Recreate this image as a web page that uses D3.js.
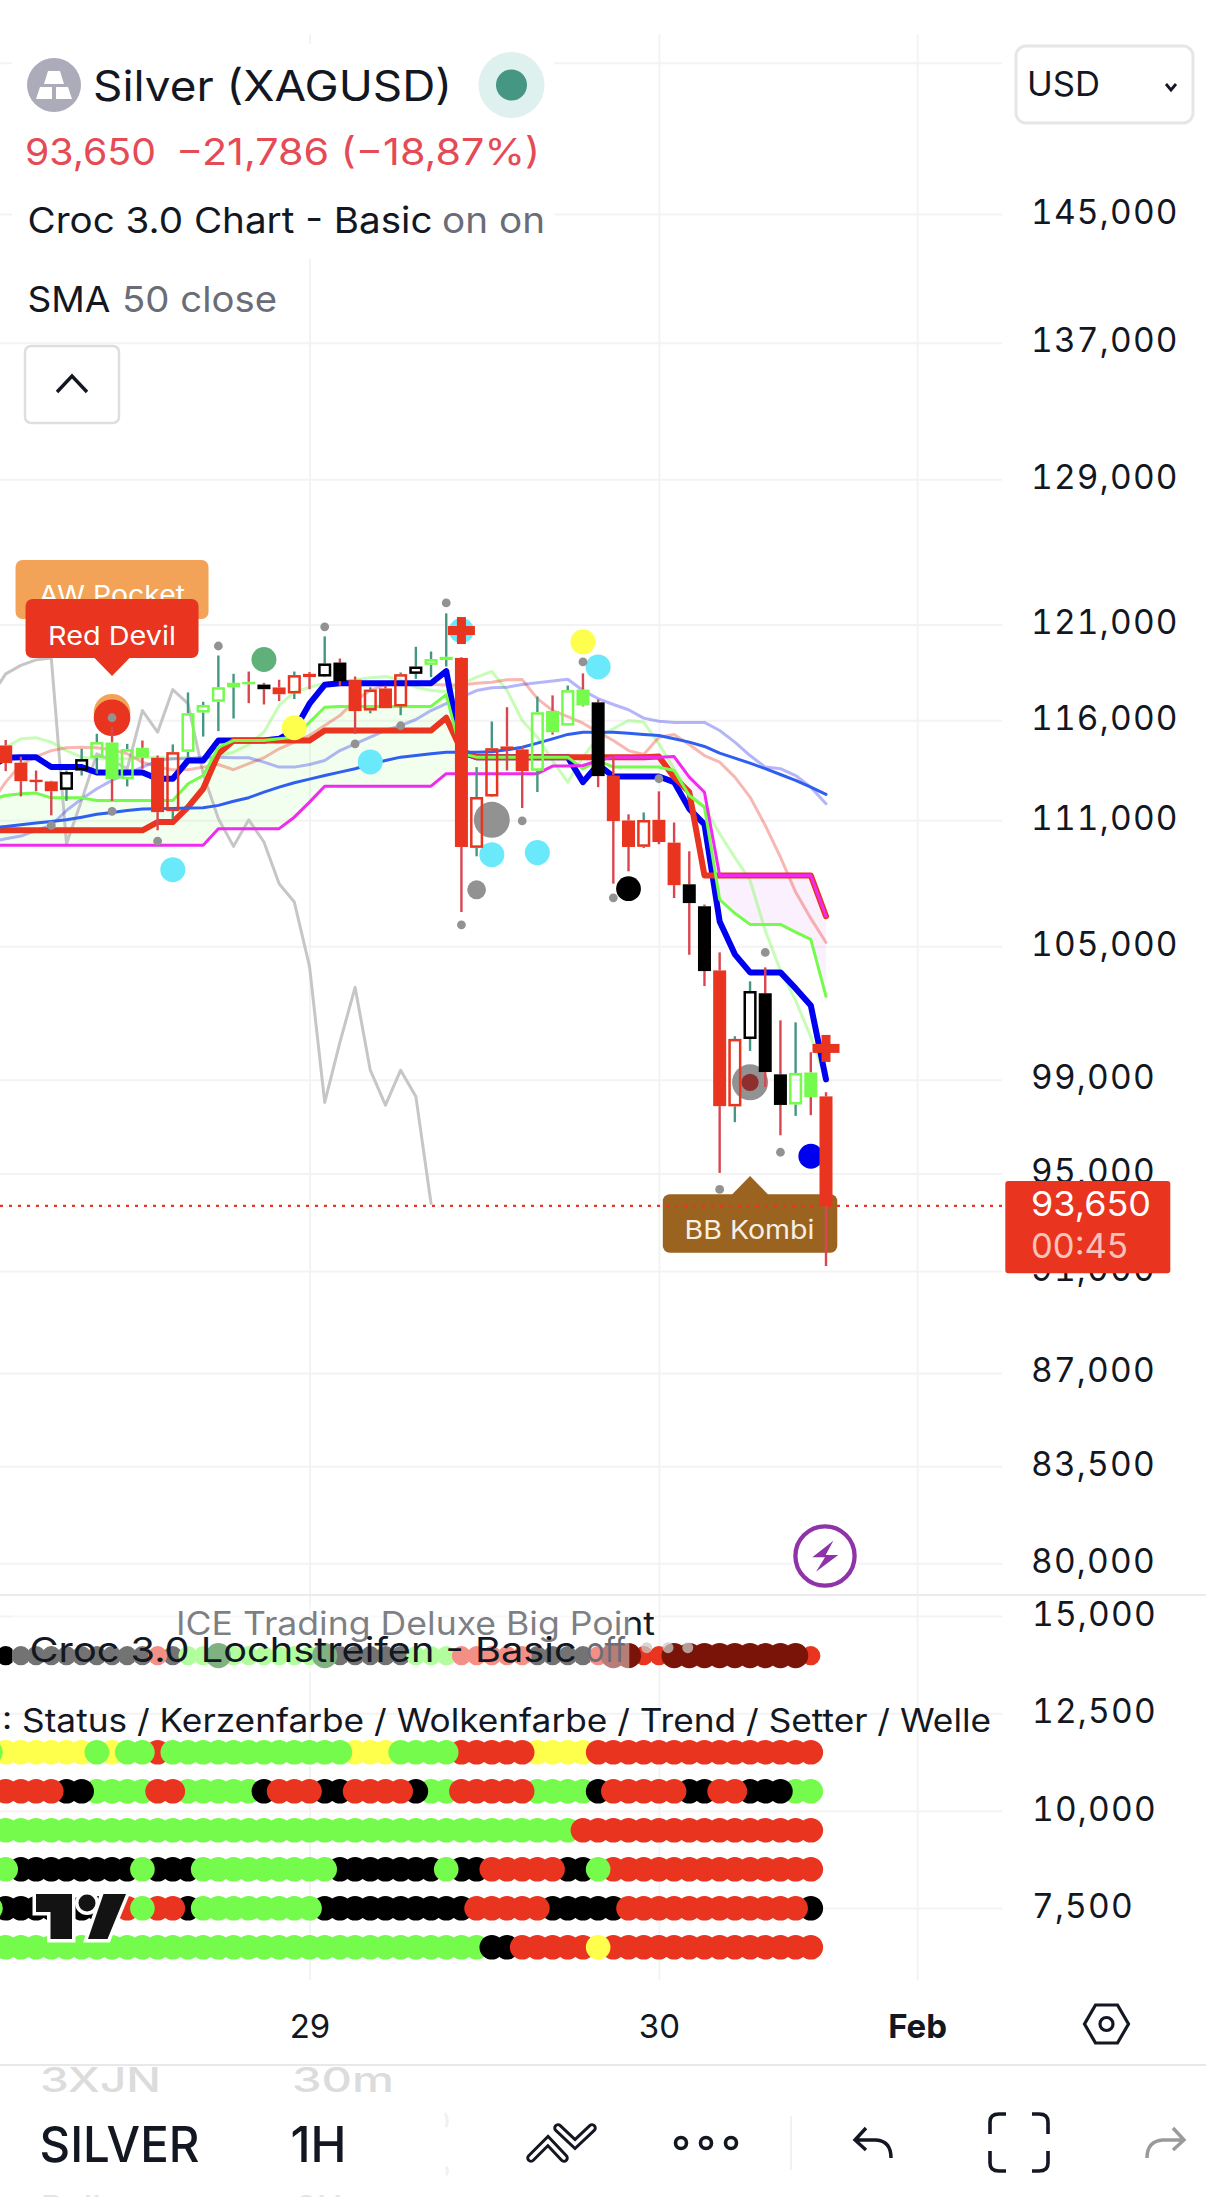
<!DOCTYPE html>
<html><head><meta charset="utf-8">
<script src="https://cdn.jsdelivr.net/npm/d3@7/dist/d3.min.js"></script>
<style>html,body{margin:0;padding:0;background:#fff;overflow:hidden}svg{display:block}text{font-family:Inter,"Noto Sans",sans-serif}</style>
</head><body><div id="chart"></div>
<script>
// ---------- values (price units) ----------
const barOpen=[114720,113850,113000,112915,112500,113460,114100,114870,113030,114600,114100,111450,114400,116400,116950,117700,117980,117840,117690,117380,118400,118260,118990,118090,116500,117640,116710,118400,118870,119170,119230,109660,112170,114670,114520,113450,116480,115730,117580,116920,113210,110990,109710,111020,109910,107910,106870,103890,97850,100800,102850,99240,97930,99320,98280];
const barClose=[113830,112930,112900,112430,113380,114030,114890,113030,114530,114100,111400,114380,116360,116780,117700,117930,117860,117600,117340,118330,118230,118940,118020,116470,117580,116620,118380,118780,119170,119290,109700,112140,114580,114530,113430,116410,115390,117550,116760,113180,110960,109700,111010,109940,107870,107020,103860,97860,100800,102950,99340,97910,99300,98250,93650];
const barHigh=[115000,114160,113460,112950,113460,114550,115310,115650,114800,114970,114210,114770,117430,116950,119360,118400,118520,117930,118090,118520,118490,120370,119200,118260,117700,117780,118470,119820,119570,121600,119270,113630,115940,116670,114670,117220,117280,117790,118420,117070,114210,111290,111380,112420,110890,109490,106950,104720,100920,103390,104030,101630,101540,100210,98460];
const barLow=[113430,112170,112430,111240,111950,113210,113300,111950,112670,113550,110510,111070,114130,115170,115450,116090,116880,116810,116990,117090,117600,118230,117780,115310,116360,116620,116260,118140,118230,118780,106600,109250,112140,113460,111600,112390,115270,115730,116710,112630,107940,108530,109650,109830,107260,104610,103180,95020,97170,100270,98690,96610,97440,97470,91200];
const barColor="rrrrkkggggrrgggggkrrrkkrrrrkggrrrrrggggkrrrrrkkrrkkkggr".split('');

// lines start one bar left of the first candle (index -1)
const conversionLine=[113630,114100,114130,114130,113630,113630,113630,113360,113360,113360,113360,113050,113050,113960,113960,114970,114970,114970,114970,115055,115480,116850,117830,117910,117910,117910,117910,117910,117910,117910,118540,114380,114130,114130,114130,114130,114130,114130,114130,112880,113760,113160,113160,113160,113160,112880,111560,110800,106160,104630,103800,103800,103800,103070,102300,99020];
const greenLine=[112000,112220,112300,112335,112100,112100,112100,111975,111975,111975,111975,111975,111975,112800,113210,114630,114970,114970,114970,115055,115140,115900,116670,116710,116710,116710,116710,116710,116710,116710,117320,114300,114130,114130,114130,114130,114130,114130,114130,113550,113960,113630,113630,113630,113630,113460,112220,111640,107190,106540,106020,106020,106020,105660,105320,102710];
const redLine=[110510,110510,110510,110510,110510,110510,110510,110510,110510,110510,110510,110910,110910,111640,112550,114300,114970,114970,114970,114970,114970,114970,115480,115480,115480,115480,115480,115480,115480,115480,116130,114460,114130,114130,114130,114130,114130,114130,114130,114130,114130,114130,114130,114130,114160,113130,112380,108330,108330,108330,108330,108330,108330,108330,108330,106400];
const magentaLine=[109780,109780,109780,109780,109780,109780,109780,109780,109780,109780,109780,109780,109780,109780,109780,110590,110590,110590,110590,110590,111150,111890,112680,112680,112680,112680,112680,112680,112680,112680,113300,113300,113300,113300,113300,113300,113300,113680,113680,113710,113960,114130,114130,114130,114130,114160,113130,112380,108330,108330,108330,108330,108330,108330,108330,106400];
const blueLine=[110630,110700,110780,110860,110940,111020,111150,111290,111380,111480,111550,111560,111580,111600,111610,111730,111930,112110,112385,112630,112850,113030,113210,113380,113550,113760,113960,114130,114210,114300,114380,114380,114380,114400,114500,114630,114840,115055,115280,115395,115395,115395,115340,115280,115225,115055,114890,114670,114330,114080,113830,113550,113260,112970,112630,112270];
const paleBlueLine=[109940,110100,110230,110510,110750,111480,112050,112550,112970,113300,113630,113960,114050,114050,114130,114130,114100,114100,113880,113630,113630,113760,113960,114460,114800,115140,115480,115730,116040,116500,116850,117190,117530,117670,117700,117840,117930,118020,118120,117530,117110,116810,116540,116110,115950,115890,115890,115890,115480,114890,114210,113630,113550,113210,112630,111810];
const paleRedLine=[111810,112880,113760,114160,114460,114600,114630,114600,114500,114300,113880,113630,113500,113500,113630,113760,113500,113800,114100,114550,114890,115225,115730,116240,117020,117530,117840,117960,117870,117840,117820,117820,117910,117960,118090,118100,117110,116500,116190,115850,115395,114970,114460,114260,115140,115280,114770,114210,113880,113130,112140,110750,109210,107540,106300,105180];
const paleGreenLine=[114300,114630,115055,115110,114890,114460,114130,114050,114050,114050,114130,114130,114050,114130,113880,114210,114380,114770,115395,116760,117450,117700,117910,117960,118090,118190,118260,118090,117700,117530,117480,117880,118230,118520,117530,115990,115140,113960,112880,114130,115140,115565,115990,115900,114800,113550,112300,111640,110340,109200,108100,105740,103890,102530,100890,99000];
// grey trace ends at bar 28
const greyLine=[117190,118400,118840,119130,119230,109860,111980,114300,113960,113550,116500,115395,117580,116850,113300,111070,109730,111020,109940,107940,107070,104080,98020,100650,103120,99420,97900,99420,98280,93750];

// markers [bar, price]
const cyanDots=[[11,108610],[24,113890],[30,120680],[32,109330],[35,109430],[39,118760]];
const yellowDots=[[19,115620],[38,120080]];
const smallGreyDots=[[3,110750],[7,111430],[7,116130],[10,109985],[14,119860],[21,120880],[23,114800],[26,115720],[29,122160],[30,106000],[34,110970],[38,119020],[40,107270],[43,113050],[47,94330],[50,104720],[51,95890]];
const bigGreyDots=[[32,111020],[49,98890]];
const midGreyDots=[[31,107650]];
const blackDots=[[41,107700]];
const blueDots=[[53,95720]];
const greenDots=[[17,119150]];
const orangeDots=[[7,116410]];
const redDots=[[7,116130]];
const darkRedDots=[[49,98890]];
const plusMarks=[[30,120680],[54,100380]];
const lastPrice=93650;

const priceTicks=[155000,145000,137000,129000,121000,116000,111000,105000,99000,95000,91000,87000,83500,80000];
const paneTicks=[15000,12500,10000,7500];
const timeTicks=[20,43,60];
const timeLabels=["29","30","Feb"];

// dot rows, bars -1 .. 53
const rowPoints="kkkkkkkkkkkrkggGggggggGkkkkkgggrrrrrkkkkrRRrrRRRRRRRRRr".split('');
const rowStatus="gyyyyyygyggrggggggggggggyyyggggrrrrryyyyrrrrrrrrrrrrrrr".split('');
const rowCandle="rrrrrkkggggrrgggggkrrrkkrrrrkggrrrrrggggkrrrrrkkrrkkkgg".split('');
const rowCloud="gggggggggggggggggggggggggggggggggggggggrrrrrrrrrrrrrrrr".split('');
const rowTrend="ggkkkkkkkkgkkkgggggggggkkkkkkkgkkrrrrrkkgrrrrrrrrrrrrrr".split('');
const rowSetter="gkkkkkkkkrgrrkggggggggkkkkkkkkkkrrrrrkkkkkrrrrrrrrrrrrk".split('');
const rowWave="gggggggggggggggggggggggggggggggggkkrrrrryrrrrrrrrrrrrrr".split('');
const fadedDots=[42.2,43.6,44.9];

// ---------- drawing ----------
const W=1206,H=2197;
const RED="#e9341f",GREEN="#74fb4b",YEL="#fefe4c",WICKR="#d9464f",WICKG="#459682",CYAN="#6ae9fb",GREY="#929292";
const svg=d3.select("#chart").append("svg").attr("width",W).attr("height",H).attr("viewBox",`0 0 ${W} ${H}`);
const x=d3.scaleLinear().domain([0,54]).range([5.7,826]);
const y=d3.scaleLog().domain([145000,91000]).range([214,1271]);
const yPane=d3.scaleLinear().domain([7500,15000]).range([1908,1616]);

function txt(g,px,py,s,o={}){
  const t=g.append("text").attr("x",px).attr("y",py).text(s)
    .attr("font-size",o.size||32).attr("fill",o.fill||"#131722").attr("font-weight",o.weight||400);
  if(o.anchor)t.attr("text-anchor",o.anchor);
  if(o.len)t.attr("textLength",o.len).attr("lengthAdjust","spacingAndGlyphs");
  return t;
}
function gridStyle(g){
  g.select(".domain").remove();
  g.selectAll("line").attr("stroke","#f3f3f3").attr("stroke-width",2);
  g.selectAll("text").remove();
}
// grids
svg.append("g").attr("transform","translate(0,1980)")
  .call(d3.axisBottom(x).tickValues(timeTicks).tickSize(-1946)).call(gridStyle);
svg.append("g").attr("transform","translate(1002,0)")
  .call(d3.axisLeft(y).tickValues(priceTicks).tickSize(1002)).call(gridStyle);
svg.append("g").attr("transform","translate(1002,0)")
  .call(d3.axisLeft(yPane).tickValues(paneTicks).tickSize(1002)).call(gridStyle);

// cloud
const idx=a=>a.map((v,i)=>({i:i-1,v}));
const cloud=magentaLine.map((m,k)=>({i:k-1,m,g:greenLine[k]}));
const area=d3.area().x(d=>x(d.i)).y0(d=>y(d.m)).y1(d=>y(d.g));
svg.append("path").attr("d",area(cloud.slice(0,41))).attr("fill","#74fb4b").attr("opacity",.09);
svg.append("path").attr("d",area(cloud.slice(41))).attr("fill","#d040e8").attr("opacity",.08);

// lines
const line=d3.line().x(d=>x(d.i)).y(d=>y(d.v));
function drawLine(a,c,w,op=1){
  svg.append("path").attr("d",line(idx(a))).attr("fill","none").attr("stroke",c).attr("stroke-width",w)
   .attr("stroke-opacity",op).attr("stroke-linejoin","round").attr("stroke-linecap","round");
}
drawLine(greyLine,"#c6c6c6",3);
drawLine(paleGreenLine,GREEN,3,.4);
drawLine(paleRedLine,RED,3,.35);
drawLine(paleBlueLine,"#2a2ff0",3,.35);
drawLine(conversionLine,"#0000f0",6);
drawLine(redLine,RED,6);
drawLine(greenLine,GREEN,3);
drawLine(magentaLine,"#f02bf0",3);
drawLine(blueLine,"#2f5ff0",3);

// markers
function dots(a,c,r,op=1){
  svg.append("g").selectAll("circle").data(a).join("circle")
   .attr("cx",d=>x(d[0])).attr("cy",d=>y(d[1])).attr("r",r).attr("fill",c).attr("fill-opacity",op);
}
dots(cyanDots,CYAN,12.5);
dots(yellowDots,YEL,12.5);
dots(greenDots,"#60b07a",12.5);
dots(orangeDots,"#f2a358",18.3);
dots(redDots,RED,18.3);
dots(bigGreyDots,GREY,18);
dots(darkRedDots,"#8c2f2e",8.6);
dots(midGreyDots,GREY,9.4);
dots(blackDots,"#000",12.4);
dots(blueDots,"#0000f0",12.4);
dots(smallGreyDots,GREY,4.4);

// labels attached to bars
function tag(bar,top,h,w,c){
  const cx=x(bar), g=svg.append("g");
  g.append("rect").attr("x",cx-w/2).attr("y",top).attr("width",w).attr("height",h).attr("rx",7).attr("fill",c);
  return g;
}
const aw=tag(7,560,59,193,"#f2a358");
txt(aw,112,604,"AW Pocket",{size:26,fill:"#fff",anchor:"middle",len:146});
const rd=tag(7,599,59,173,RED);
rd.append("path").attr("d",`M${x(7)-18.5},657 L${x(7)},676 L${x(7)+18.5},657 Z`).attr("fill",RED);
txt(rd,112,645,"Red Devil",{size:26,fill:"#fff",anchor:"middle",len:128});
const bb=tag(49,1194.3,58.4,174.5,"#9a6420");
bb.append("path").attr("d",`M${x(49)-18.5},1195 L${x(49)},1176 L${x(49)+18.5},1195 Z`).attr("fill","#9a6420");
txt(bb,749.5,1239.3,"BB Kombi",{size:26,fill:"#f6efe2",anchor:"middle",len:130});

// candles
const bars=barOpen.map((o,i)=>({i,o,c:barClose[i],h:barHigh[i],l:barLow[i],col:barColor[i]}));
const colMap={r:RED,g:GREEN,k:"#000"};
const cg=svg.append("g");
bars.forEach(b=>{
  const px=x(b.i),yT=y(Math.max(b.o,b.c)),yB=y(Math.min(b.o,b.c)),up=b.c>b.o,wc=up?WICKG:WICKR,c=colMap[b.col];
  cg.append("line").attr("x1",px).attr("x2",px).attr("y1",y(b.h)).attr("y2",yT).attr("stroke",wc).attr("stroke-width",2.4);
  cg.append("line").attr("x1",px).attr("x2",px).attr("y1",yB).attr("y2",y(b.l)).attr("stroke",wc).attr("stroke-width",2.4);
  if(up){
    cg.append("rect").attr("x",px-5.3).attr("y",yT+1.2).attr("width",10.6).attr("height",Math.max(yB-yT-2.4,.8))
      .attr("fill","none").attr("stroke",c).attr("stroke-width",2.5);
  }else{
    cg.append("rect").attr("x",px-6.5).attr("y",yT).attr("width",13).attr("height",Math.max(yB-yT,2.4)).attr("fill",c);
  }
});
// plus marks
plusMarks.forEach(p=>{
  const px=x(p[0]),py=y(p[1]);
  svg.append("rect").attr("x",px-13.5).attr("y",py-4.5).attr("width",27).attr("height",9).attr("fill",RED);
  svg.append("rect").attr("x",px-4.5).attr("y",py-13.5).attr("width",9).attr("height",27).attr("fill",RED);
});

// last-price line
svg.append("line").attr("x1",0).attr("x2",1005).attr("y1",y(lastPrice)).attr("y2",y(lastPrice))
  .attr("stroke",RED).attr("stroke-width",2.4).attr("stroke-dasharray","3 6");

// lightning badge
svg.append("circle").attr("cx",825).attr("cy",1556).attr("r",34).attr("fill","#fff");
svg.append("circle").attr("cx",825).attr("cy",1556).attr("r",29.6).attr("fill","none").attr("stroke","#8e33a8").attr("stroke-width",4.3);
svg.append("path").attr("d","M833.3,1540.7 L812.3,1557.3 L825,1557.3 L816,1571.7 L838.3,1555 L825.7,1555 Z").attr("fill","#8e33a8");

// pane separator
svg.append("line").attr("x1",0).attr("x2",W).attr("y1",1595).attr("y2",1595).attr("stroke","#ebebeb").attr("stroke-width",2);

// dot rows
function row(a,py,order,cols,r=12.3){
  const data=a.map((c,k)=>({i:k-1,c}));
  data.sort((p,q)=>order.indexOf(p.c)-order.indexOf(q.c)||p.i-q.i);
  svg.append("g").selectAll("circle").data(data).join("circle")
   .attr("cx",d=>x(d.i)).attr("cy",py).attr("r",d=>(typeof r==='function'?r(d.c):r)).attr("fill",d=>cols[d.c]);
}
const cols={g:GREEN,r:RED,k:"#000",y:YEL,G:"#18731a",R:"#7a1409"};
txt(svg,176,1635,"ICE Trading Deluxe Big Point",{size:32,fill:"#131722",len:479});
row(rowPoints,1655.7,"kgrGR",cols,c=>(c==='G'||c==='R')?12.6:9.6);
svg.append("g").selectAll("circle").data(fadedDots).join("circle")
  .attr("cx",d=>x(d)).attr("cy",1647.7).attr("r",5.5).attr("fill","#c9c9c9").attr("fill-opacity",.75);
svg.append("rect").attr("x",12).attr("y",1606).attr("width",617.3).attr("height",66).attr("fill","#fff").attr("fill-opacity",.45);
txt(svg,29.6,1661.7,"Croc 3.0 Lochstreifen - Basic",{size:34,fill:"#131722",len:547});
txt(svg,586,1661.7,"off",{size:34,fill:"#6a6d78",len:40});
txt(svg,2,1731.7,": Status / Kerzenfarbe / Wolkenfarbe / Trend / Setter / Welle",{size:32,fill:"#131722",len:989});
row(rowStatus,1752.3,"yrg",cols);
row(rowCandle,1791.3,"gkr",cols);
row(rowCloud,1830.3,"gr",cols);
row(rowTrend,1869.3,"krg",cols);
row(rowSetter,1908.3,"krg",cols);
row(rowWave,1947.3,"gkry",cols);

// TradingView mark
const tv=svg.append("g");
const tvA="36,1894 72,1894 72,1939 50.5,1939 50.5,1912 36,1912";
const tvB="103.5,1894 126,1894 107.5,1939 88,1939";
[tvA,tvB].forEach(p=>tv.append("polygon").attr("points",p).attr("fill","#fff").attr("stroke","#fff").attr("stroke-width",7));
tv.append("circle").attr("cx",87).attr("cy",1903).attr("r",12).attr("fill","#fff");
tv.append("polygon").attr("points",tvA).attr("fill","#131313");
tv.append("polygon").attr("points",tvB).attr("fill","#131313");
tv.append("circle").attr("cx",87).attr("cy",1903).attr("r",8.5).attr("fill","#131313");

// price axis labels
function axisText(g,dy,sz){
  g.select(".domain").remove(); g.selectAll("line").remove();
  g.selectAll("text").attr("x",0).attr("dy",dy+"px").attr("font-size",sz).attr("fill","#131722")
   .attr("text-anchor","start").attr("font-family","Inter")
   .style("font-variant-numeric","tabular-nums").style("letter-spacing","1.2px");
}
svg.append("g").attr("transform","translate(1031,0)")
  .call(d3.axisRight(y).tickValues(priceTicks.slice(1)).tickFormat(d3.format(",")).tickSize(0)).call(axisText,9,33.5);
svg.append("g").attr("transform","translate(1032,0)")
  .call(d3.axisRight(yPane).tickValues(paneTicks).tickFormat(d3.format(",")).tickSize(0)).call(axisText,9.5,33.5);

// last price box
svg.append("rect").attr("x",1005.3).attr("y",1181).attr("width",165).attr("height",92.3).attr("rx",3).attr("fill",RED);
txt(svg,1031,1216,d3.format(",")(lastPrice),{size:34.5,fill:"#fff",len:120});
txt(svg,1031,1258.3,"00:45",{size:34.5,fill:"#f7c2ba",len:97});

// time axis
svg.append("g").attr("transform","translate(0,2038)")
  .call(d3.axisBottom(x).tickValues(timeTicks).tickFormat((d,i)=>timeLabels[i]).tickSize(0))
  .call(g=>{g.select(".domain").remove();g.selectAll("line").remove();
    g.selectAll("text").attr("y",0).attr("dy",0).attr("font-size",33).attr("font-family","Inter").attr("fill","#131722")
     .attr("font-weight",(d,i)=>i===2?700:400);});
svg.append("line").attr("x1",0).attr("x2",W).attr("y1",2065).attr("y2",2065).attr("stroke","#e8e8e8").attr("stroke-width",2);

// settings hexagon
svg.append("path").attr("d","M1095.5,2005 L1117.5,2005 L1128.5,2024 L1117.5,2043 L1095.5,2043 L1084.5,2024 Z").attr("fill","none").attr("stroke","#131722").attr("stroke-width",3.2);
svg.append("circle").attr("cx",1106.5).attr("cy",2024).attr("r",6.5).attr("fill","none").attr("stroke","#131722").attr("stroke-width",3.2);

// header backdrop & legend
svg.append("rect").attr("x",12).attr("y",44).attr("width",542).attr("height",215).attr("fill","#fff").attr("fill-opacity",.95);
svg.append("circle").attr("cx",54).attr("cy",85).attr("r",27).attr("fill","#acabb9");
svg.append("path").attr("d","M48,71 L60,71 L64,84 L44,84 Z M36,99 L40,87 L52,87 L52,99 Z M56,87 L68,87 L72,99 L56,99 Z").attr("fill","#fff");
txt(svg,93,100.7,"Silver (XAGUSD)",{size:42,fill:"#131722",len:359});
svg.append("circle").attr("cx",511.5).attr("cy",85).attr("r",33).attr("fill","#dff1ee");
svg.append("circle").attr("cx",511.5).attr("cy",85).attr("r",15.5).attr("fill","#459682");
txt(svg,25,164.5,"93,650",{size:37,fill:"#e54a55",len:131});
txt(svg,176,164.5,"−21,786 (−18,87%)",{size:37,fill:"#e54a55",len:364});
txt(svg,27.5,233,"Croc 3.0 Chart - Basic",{size:36,fill:"#131722",len:405});
txt(svg,442,233,"on on",{size:36,fill:"#6a6d78",len:103});
txt(svg,27.5,311.5,"SMA",{size:36,fill:"#131722",len:83});
txt(svg,122,311.5,"50 close",{size:36,fill:"#6a6d78",len:155});

// USD button
svg.append("rect").attr("x",1016).attr("y",46).attr("width",177).attr("height",77).attr("rx",10).attr("fill","#fff").attr("stroke","#e6e6e6").attr("stroke-width",3);
txt(svg,1027,96.4,"USD",{size:34,fill:"#131722",len:73});
svg.append("path").attr("d","M1166,84 L1171,90 L1176,84").attr("fill","none").attr("stroke","#131722").attr("stroke-width",2.8);

// collapse button
svg.append("rect").attr("x",25).attr("y",346).attr("width",94).attr("height",77).attr("rx",6).attr("fill","#fff").attr("stroke","#dedede").attr("stroke-width",2.5);
svg.append("path").attr("d","M57,392 L72,376 L87,392").attr("fill","none").attr("stroke","#131722").attr("stroke-width",3.4);

// bottom toolbar
txt(svg,40,2091.7,"3XJN",{size:34,fill:"#dcdcdc",len:121,weight:500});
txt(svg,292,2091.7,"30m",{size:34,fill:"#dcdcdc",len:102,weight:500});
txt(svg,39.5,2161.7,"SILVER",{size:49,fill:"#131722",len:160,weight:500});
txt(svg,290.5,2161.7,"1H",{size:49,fill:"#131722",len:56,weight:500});
txt(svg,41,2220,"Bull",{size:34,fill:"#e4e4e4",weight:500});
txt(svg,296,2220,"2H",{size:34,fill:"#e4e4e4",weight:500});
["M445,2113 Q449,2120 446,2127","M446,2167 Q449,2171 446,2175"].forEach(d=>svg.append("path").attr("d",d).attr("fill","none").attr("stroke","#f1f1f1").attr("stroke-width",3));
["M531,2158 L548,2141 L564,2158","M558,2128 L575,2144 L592,2128"].forEach(d=>{
  svg.append("path").attr("d",d).attr("fill","none").attr("stroke","#131722").attr("stroke-width",9.5).attr("stroke-linejoin","miter").attr("stroke-linecap","round");
  svg.append("path").attr("d",d).attr("fill","none").attr("stroke","#fff").attr("stroke-width",3.6).attr("stroke-linejoin","miter").attr("stroke-linecap","round");
});
[681,706,731].forEach(cx=>svg.append("circle").attr("cx",cx).attr("cy",2143).attr("r",5.5).attr("fill","none").attr("stroke","#131722").attr("stroke-width",3.6));
svg.append("line").attr("x1",791).attr("x2",791).attr("y1",2116).attr("y2",2170).attr("stroke","#eeeeee").attr("stroke-width",1.5);
svg.append("path").attr("d","M866,2128 L855,2140 L866,2150 M856,2140 L876,2140 Q891,2141 891,2158").attr("fill","none").attr("stroke","#131722").attr("stroke-width",3.4);
svg.append("path").attr("d","M1173,2128 L1184,2140 L1173,2150 M1183,2140 L1163,2140 Q1147,2141 1147,2158").attr("fill","none").attr("stroke","#9a9a9a").attr("stroke-width",3.4);
svg.append("path").attr("d","M990,2134 L990,2122 Q990,2114 999,2114 L1006,2114 M1032,2114 L1039,2114 Q1048,2114 1048,2122 L1048,2134 M990,2151 L990,2163 Q990,2171 999,2171 L1006,2171 M1032,2171 L1039,2171 Q1048,2171 1048,2163 L1048,2151")
  .attr("fill","none").attr("stroke","#131722").attr("stroke-width",3.6);
</script></body></html>
